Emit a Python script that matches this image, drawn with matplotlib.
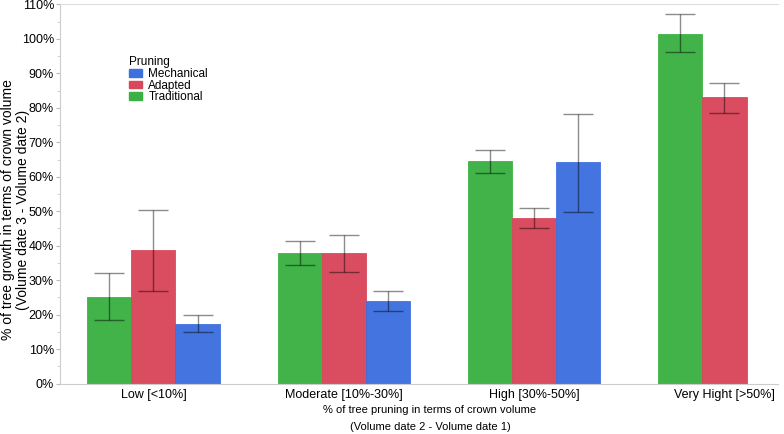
import numpy as np
import matplotlib.pyplot as plt
from matplotlib.ticker import MultipleLocator, PercentFormatter
from matplotlib.patches import Patch

plt.rcParams['font.family'] = ['Liberation Sans', 'DejaVu Sans']

# data (fraction of crown volume)
categories = ['Low [<10%]', 'Moderate [10%-30%]', 'High [30%-50%]', 'Very Hight [>50%]']
series = ['Traditional', 'Adapted', 'Mechanical']
colors = {'Traditional': '#3bb143', 'Adapted': '#d9475b', 'Mechanical': '#3e6fde'}

traditional = [0.252, 0.380, 0.645, 1.015]
trad_lo = [0.184, 0.343, 0.612, 0.962]
trad_hi = [0.320, 0.415, 0.678, 1.071]

adapted = [0.388, 0.378, 0.480, 0.830]
adap_lo = [0.270, 0.323, 0.450, 0.785]
adap_hi = [0.503, 0.432, 0.510, 0.872]

mechanical = [0.174, 0.240, 0.643, np.nan]
mech_lo = [0.149, 0.210, 0.498, np.nan]
mech_hi = [0.200, 0.270, 0.783, np.nan]

vals = {'Traditional': (traditional, trad_lo, trad_hi),
        'Adapted': (adapted, adap_lo, adap_hi),
        'Mechanical': (mechanical, mech_lo, mech_hi)}

fig = plt.figure(figsize=(7.84, 4.34), dpi=100)
ax = fig.add_axes([0.076, 0.116, 0.916, 0.874])

x = np.arange(len(categories))
w = 0.232
for i, s in enumerate(series):
    v, lo, hi = [np.array(a, dtype=float) for a in vals[s]]
    pos = x + (i - 1) * w
    ax.bar(pos, v, width=w, color=colors[s], edgecolor=colors[s], linewidth=0.6, alpha=0.97, zorder=2)
    ax.errorbar(pos, v, yerr=[v - lo, hi - v], fmt='none', ecolor='black', alpha=0.45,
                elinewidth=1.0, capsize=11, capthick=1.0, zorder=3)

ax.set_xlim(-0.493, 3.28)
ax.set_ylim(0, 1.10)
ax.set_xticks(x)
ax.set_xticklabels(categories, fontsize=9)
ax.yaxis.set_major_locator(MultipleLocator(0.1))
ax.yaxis.set_minor_locator(MultipleLocator(0.05))
ax.yaxis.set_major_formatter(PercentFormatter(1.0, decimals=0))
ax.tick_params(axis='y', labelsize=9, length=3, color='#bbbbbb', pad=1)
ax.tick_params(axis='y', which='minor', length=2, color='#cccccc')
ax.tick_params(axis='x', length=0, pad=4)

for sp in ['left', 'bottom']:
    ax.spines[sp].set_color('#cccccc')
ax.spines['right'].set_visible(False)
ax.spines['top'].set_color('#dddddd')
ax.spines['top'].set_linestyle((0, (1, 1)))

# axis titles placed on the figure
fig.text(8 / 784, 1 - 210 / 434, '% of tree growth in terms of crown volume',
         rotation=90, ha='center', va='center', fontsize=10)
fig.text(23 / 784, 1 - 210 / 434, '(Volume date 3 - Volume date 2)',
         rotation=90, ha='center', va='center', fontsize=10)
fig.text(430 / 784, 1 - 410 / 434, '% of tree pruning in terms of crown volume',
         ha='center', va='center', fontsize=8)
fig.text(430 / 784, 1 - 427 / 434, '(Volume date 2 - Volume date 1)',
         ha='center', va='center', fontsize=8)

handles = [Patch(facecolor=colors[s], edgecolor=colors[s]) for s in ['Mechanical', 'Adapted', 'Traditional']]
leg = ax.legend(handles, ['Mechanical', 'Adapted', 'Traditional'], title='Pruning',
                loc='upper left', bbox_to_anchor=(0.085, 0.885), frameon=False,
                fontsize=8.5, title_fontsize=8.5, handlelength=1.15, handleheight=0.6,
                labelspacing=-0.05, handletextpad=0.5, borderpad=0.2)
leg._legend_box.align = 'left'
leg._legend_box.sep = 0

fig.savefig('out.png', dpi=100)
